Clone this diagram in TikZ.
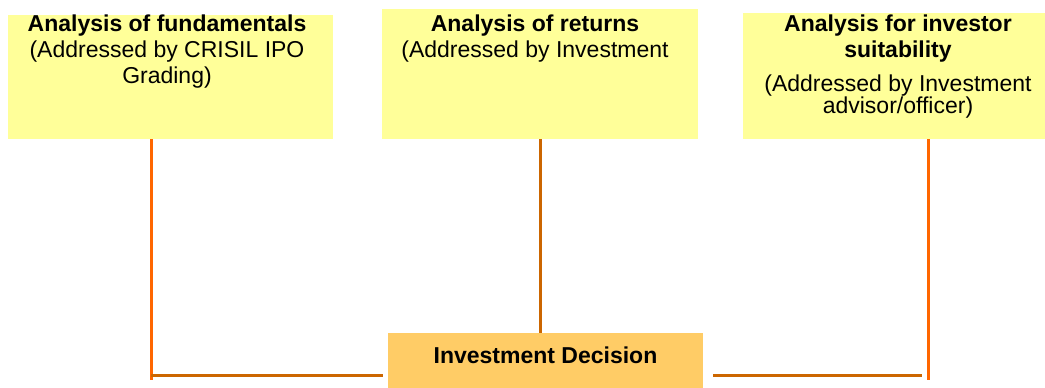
\documentclass[tikz,border=0pt]{standalone}
\usepackage{fontspec}
\setmainfont{Liberation Sans}
\definecolor{paleyellow}{HTML}{FFFF99}
\definecolor{lightorange}{HTML}{FFCC66}
\definecolor{linkorange}{HTML}{FF6600}
\definecolor{darkorange}{HTML}{CC6600}
\begin{document}
\begin{tikzpicture}[x=1pt, y=-1pt,
	box/.style={fill=paleyellow, inner sep=0pt},
	boxtext/.style={anchor=north, align=center, inner sep=0pt, font=\fontsize{23}{26}\selectfont},
	decision/.style={fill=lightorange, inner xsep=0pt, inner ysep=10pt, text height=20pt, text depth=27pt, font=\fontsize{23}{26}\selectfont\bfseries},
	vlink/.style={draw=linkorange, line width=3pt},
	hlink/.style={draw=darkorange, line width=3pt}]
	\useasboundingbox (0,0) rectangle (1045,388);
	\node[box, minimum width=325pt, minimum height=124pt] (fund) at (170.5,77) {};
	\node[box, minimum width=316pt, minimum height=130pt] (ret) at (540,74) {};
	\node[box, minimum width=314pt, minimum height=126pt] (suit) at (900,76) {};
	\node[boxtext] (fundtxt) at (167,15) {\textbf{Analysis of fundamentals}\\(Addressed by CRISIL IPO\\Grading)};
	\node[boxtext] (rettxt) at (535,15) {\textbf{Analysis of returns}\\(Addressed by Investment};
	\node[boxtext] (suittxt) at (898,15) {\textbf{Analysis for investor}\\\textbf{suitability}\\[8pt](Addressed by Investment\\[-4pt]advisor/officer)};
	\node[decision, minimum width=315pt, anchor=north] (dec) at (545.5,333) {Investment Decision};
	\coordinate (lcorner) at (151,375);
	\coordinate (lfoot) at (151,380);
	\coordinate (rcorner) at (928,375);
	\coordinate (rfoot) at (928,380);
	\draw[vlink] (fund.south -| lfoot) -- (lfoot);
	\draw[hlink, shorten >=5pt] (lcorner) -- (dec.west |- lcorner);
	\draw[hlink] (ret.south) -- (ret.south |- dec.north);
	\draw[hlink, shorten <=10pt, shorten >=6pt] (dec.east |- rcorner) -- (rcorner);
	\draw[vlink] (suit.south -| rfoot) -- (rfoot);
\end{tikzpicture}
\end{document}
